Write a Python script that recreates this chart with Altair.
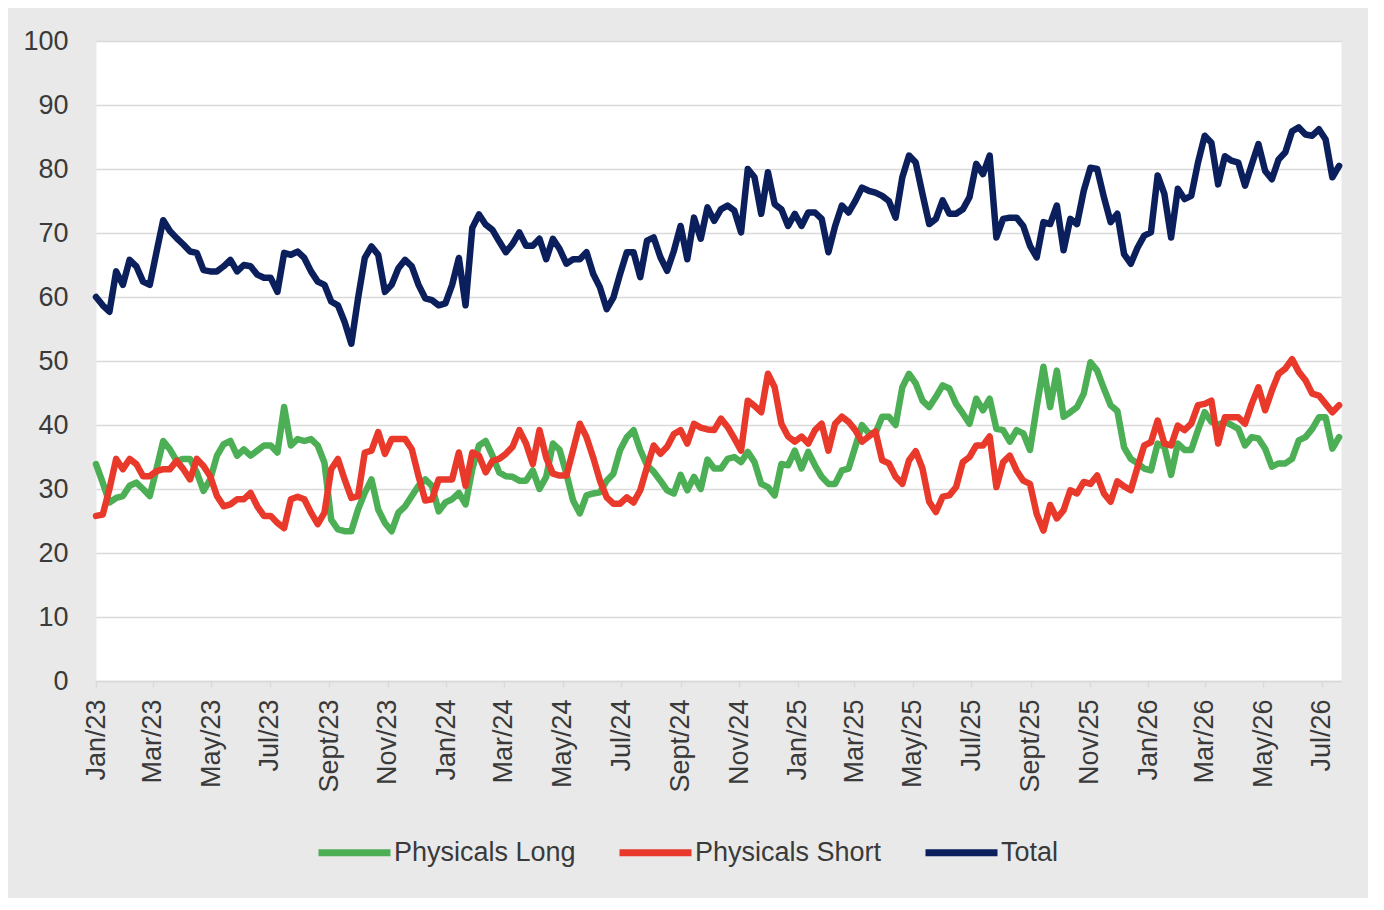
import altair as alt
import pandas as pd

# Weekly observations, Jan 2023 - Jul 2026
dates = pd.date_range("2023-01-01", periods=186, freq="7D").strftime("%Y-%m-%d").tolist()

physicals_long = [
    33.9, 31, 27.9, 28.6, 28.9, 30.5, 31, 30, 28.9, 33.1,
    37.5, 36.2, 34.4, 34.7, 34.7, 32.6, 29.7, 31.5, 35.2, 37,
    37.5, 35.2, 36.2, 35.2, 36, 36.8, 36.8, 35.7, 42.8, 36.8,
    37.8, 37.5, 37.8, 36.8, 34.1, 25.2, 23.7, 23.4, 23.4, 26.8,
    29.4, 31.5, 26.8, 24.7, 23.4, 26.3, 27.3, 28.9, 30.5, 31.5,
    30.5, 26.5, 27.9, 28.4, 29.4, 27.6, 33.1, 36.8, 37.5, 35.2,
    32.6, 32, 31.9, 31.3, 31.3, 32.9, 30, 31.9, 37.1, 36.1,
    32.4, 28.2, 26.2, 29, 29.3, 29.5, 31.3, 32.4, 36.1, 38.1,
    39.2, 36.1, 33.7, 32.7, 31.3, 29.8, 29.3, 32.2, 29.8, 31.9,
    30, 34.6, 33.2, 33.2, 34.7, 35, 34.2, 35.8, 34.2, 30.8,
    30.3, 29, 33.9, 33.7, 36, 33.2, 35.8, 33.7, 31.9, 30.8,
    30.8, 32.9, 33.2, 36.6, 40, 38.7, 38.7, 41.3, 41.3, 40,
    45.9, 48, 46.5, 43.8, 42.8, 44.4, 46.2, 45.7, 43.3, 41.8,
    40.2, 44.1, 42.3, 44.1, 39.4, 39.2, 37.4, 39.2, 38.7, 36.1,
    42.8, 49.1, 42.8, 48.5, 41.3, 42, 42.8, 44.9, 49.8, 48.5,
    45.7, 43.1, 42.2, 36.5, 34.7, 34, 33.2, 32.9, 37.1, 36.6,
    32.2, 37.1, 36.1, 36.1, 39.2, 42, 40.5, 40, 40.5, 40,
    39.4, 36.8, 38.1, 37.9, 36.3, 33.5, 34, 34, 34.7, 37.6,
    38.1, 39.4, 41.2, 41.2, 36.3, 38.1,
]

physicals_short = [
    25.8, 26, 30, 34.7, 33.1, 34.7, 33.9, 32, 32, 32.8,
    33.1, 33.1, 34.4, 33.1, 31.5, 34.7, 33.6, 32, 28.9, 27.3,
    27.6, 28.4, 28.4, 29.4, 27.3, 25.8, 25.8, 24.7, 23.9, 28.4,
    28.8, 28.4, 26.3, 24.5, 26.3, 33.1, 34.7, 31.5, 28.6, 28.9,
    35.7, 36, 38.9, 35.5, 37.8, 37.8, 37.8, 36.2, 32, 28.2,
    28.4, 31.5, 31.5, 31.5, 35.7, 30.5, 35.7, 35.2, 32.6, 34.4,
    34.7, 35.5, 36.6, 39.2, 37.1, 33.9, 39.2, 34.9, 32.4, 32.1,
    32.1, 36.1, 40.2, 38.1, 34.9, 31.3, 28.7, 27.7, 27.7, 28.7,
    27.9, 29.8, 33.4, 36.8, 35.5, 36.6, 38.6, 39.2, 37.1, 40.2,
    39.6, 39.3, 39.2, 41, 39.7, 37.9, 36, 43.8, 43, 42,
    48, 45.9, 40.2, 38.2, 37.4, 38.2, 37.1, 39.2, 40.2, 36,
    40.2, 41.3, 40.5, 39.2, 37.4, 38.2, 39, 34.5, 34, 31.9,
    30.8, 34.5, 35.9, 33.2, 28, 26.4, 28.8, 29, 30.3, 34.2,
    35, 36.8, 36.8, 38.2, 30.3, 34.2, 35.2, 32.9, 31.3, 30.8,
    26.1, 23.5, 27.5, 25.4, 26.7, 29.8, 29.3, 31.1, 30.8, 32.1,
    29.3, 28, 31.2, 30.4, 29.8, 33.4, 36.8, 37.3, 40.7, 37.1,
    36.8, 39.9, 39.2, 40.2, 43.1, 43.3, 43.8, 37.1, 41.2, 41.2,
    41.2, 40.2, 43.3, 45.9, 42.3, 45.4, 48, 48.8, 50.3, 48.3,
    47, 44.9, 44.6, 43.3, 42, 43.1,
]

total = [
    60, 58.7, 57.7, 64, 61.9, 65.8, 64.8, 62.4, 61.9, 67,
    72, 70.3, 69.2, 68.2, 67.1, 66.9, 64.2, 64, 64, 64.8,
    65.8, 64, 65, 64.8, 63.5, 63, 63, 60.8, 66.9, 66.6,
    67.1, 66.1, 64, 62.4, 61.9, 59.3, 58.7, 56.1, 52.7, 59.8,
    66.1, 67.9, 66.6, 60.8, 61.9, 64.5, 65.8, 64.8, 61.9, 59.8,
    59.5, 58.7, 59, 61.9, 66.1, 58.7, 70.8, 72.9, 71.3, 70.5,
    68.7, 67, 68.3, 70.1, 68, 68, 69.1, 65.9, 69.1, 67.5,
    65.2, 65.9, 65.9, 67, 63.6, 61.5, 58.1, 59.9, 63.6, 67,
    67, 63.1, 68.8, 69.3, 66.2, 64.1, 67.2, 71.1, 65.9, 72.4,
    69.1, 74, 71.9, 73.7, 74.3, 73.5, 70.1, 80, 78.7, 73,
    79.5, 74.5, 73.7, 71.1, 73, 71.1, 73.2, 73.2, 72.2, 67,
    71.1, 74.3, 73.2, 75, 77.1, 76.6, 76.3, 75.8, 75, 72.4,
    78.7, 82.1, 81, 76.1, 71.4, 72.2, 75.1, 73, 73, 73.7,
    75.6, 80.8, 79.2, 82.1, 69.3, 72.2, 72.4, 72.4, 71.1, 68,
    66.2, 71.7, 71.4, 74.3, 67.3, 72.2, 71.4, 76.6, 80.2, 80,
    75.6, 71.7, 73, 66.7, 65.2, 67.7, 69.6, 70.1, 79, 76.1,
    69.3, 76.9, 75.3, 75.8, 81, 85.2, 84.1, 77.6, 82, 81.3,
    81, 77.4, 80.7, 83.9, 79.7, 78.4, 81.5, 82.6, 85.9, 86.5,
    85.4, 85.2, 86.2, 84.6, 78.7, 80.5,
]

series_names = ["Physicals Long", "Physicals Short", "Total"]
series_colors = ["#4caf55", "#e8392b", "#0b1f5c"]
y_ticks = list(range(0, 101, 10))

tick_dates = pd.date_range("2023-01-01", "2026-07-01", freq="2MS")
tick_values = [int(t.value // 10**6) for t in tick_dates]
x_start = int(pd.Timestamp("2023-01-01").value // 10**6)
x_end = int(pd.Timestamp("2026-07-21").value // 10**6)

rows = []
for name, vals in zip(series_names, [physicals_long, physicals_short, total]):
    for d, v in zip(dates, vals):
        rows.append({"date": d, "value": v, "series": name})
df = pd.DataFrame(rows)

FONT = "Liberation Sans"
TXT = "#3a3a3a"

chart = (
    alt.Chart(df)
    .mark_line(strokeWidth=6.5, strokeJoin="round", strokeCap="round")
    .encode(
        x=alt.X(
            "date:T",
            title=None,
            scale=alt.Scale(type="utc", domain=[x_start, x_end]),
            axis=alt.Axis(
                values=tick_values,
                labelExpr="replace(utcFormat(datum.value, '%b/%y'), 'Sep/', 'Sept/')",
                labelAngle=270,
                labelFontSize=27,
                labelFont=FONT,
                labelColor=TXT,
                labelPadding=12,
                labelOverlap=False,
                labelFlush=False,
                grid=False,
                domainColor="#d9d9d9",
                domainWidth=1.5,
                tickColor="#d9d9d9",
                tickWidth=1.5,
                tickSize=6,
            ),
        ),
        y=alt.Y(
            "value:Q",
            title=None,
            scale=alt.Scale(domain=[0, 100], nice=False),
            axis=alt.Axis(
                values=y_ticks,
                labelFontSize=27,
                labelFont=FONT,
                labelColor=TXT,
                labelPadding=28,
                domain=False,
                ticks=False,
                gridColor="#d9d9d9",
                gridWidth=1.5,
            ),
        ),
        color=alt.Color(
            "series:N",
            scale=alt.Scale(domain=series_names, range=series_colors),
            legend=alt.Legend(
                title=None,
                orient="none",
                legendX=219,
                legendY=772,
                direction="horizontal",
                symbolType="stroke",
                symbolSize=5184,
                symbolStrokeWidth=7,
                labelFontSize=27,
                labelFont=FONT,
                labelColor=TXT,
                labelOffset=0,
                labelLimit=400,
                columnPadding=29,
                padding=0,
            ),
        ),
    )
    .properties(
        width=1245,
        height=640,
        autosize=alt.AutoSizeParams(type="none"),
        padding={"left": 88, "top": 33, "right": 27, "bottom": 217},
        background="#e9e9e9",
    )
    .configure_view(stroke="transparent", fill="white")
)

chart.save("out.html", embed_options={"renderer": "svg", "actions": False})
